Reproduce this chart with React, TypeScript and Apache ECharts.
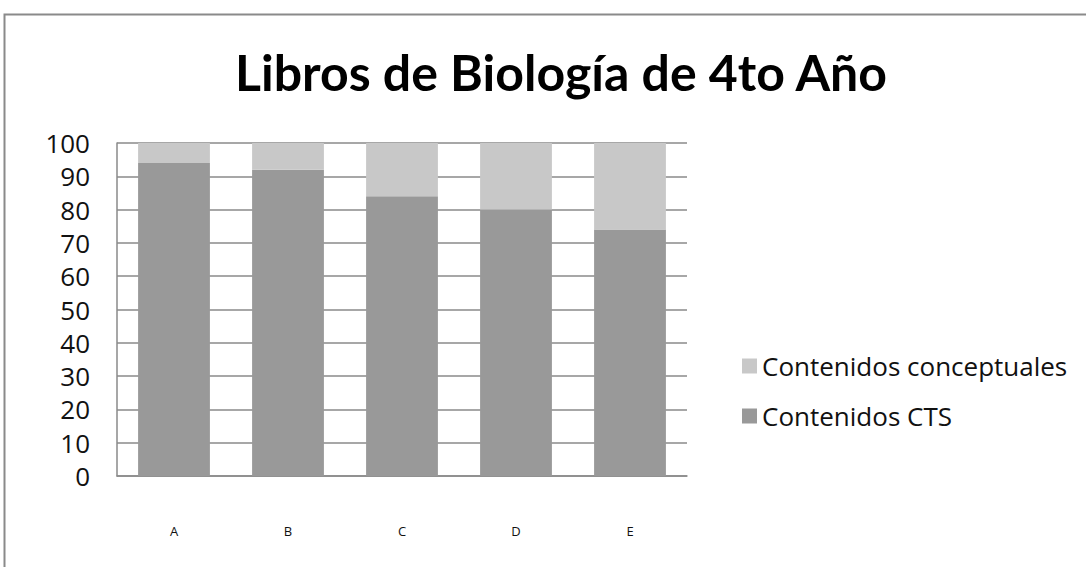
import React, { useEffect, useRef } from "react";
import * as echarts from "echarts";

const categories = ["A", "B", "C", "D", "E"];
const ctsValues = [94, 92, 84, 80, 74];
const conceptualValues = [6, 8, 16, 20, 26];
const seriesNames = ["Contenidos CTS", "Contenidos conceptuales"];
const titleText = "Libros de Biología de 4to Año";

export default function App() {
  const ref = useRef<HTMLDivElement>(null);
  useEffect(() => {
    if (!ref.current) return;
    const chart = echarts.init(ref.current, null, { renderer: "svg" });
    const font = "'Open Sans', Lato, sans-serif";
    chart.setOption({
      animation: false,
      backgroundColor: "#ffffff",
      textStyle: { fontFamily: font },
      title: {
        text: titleText,
        left: 556,
        textAlign: "center",
        top: 42,
        textStyle: { fontFamily: "Lato, sans-serif", fontSize: 50, fontWeight: "bold", color: "#000" },
      },
      graphic: [
        {
          type: "rect",
          shape: { x: 4.5, y: 14.5, width: 1200, height: 700 },
          style: { fill: "none", stroke: "#8a8a8a", lineWidth: 2 },
          silent: true,
        },
      ],
      legend: {
        orient: "vertical",
        left: 737,
        top: 348,
        itemWidth: 15,
        itemHeight: 15,
        itemGap: 24,
        icon: "rect",
        data: [seriesNames[1], seriesNames[0]],
        textStyle: { fontFamily: font, fontSize: 26, color: "#111" },
      },
      grid: { left: 117, top: 143, width: 570, height: 333, containLabel: false },
      xAxis: {
        type: "category",
        data: categories,
        axisLine: { show: true, lineStyle: { color: "#8a8a8a", width: 1.5 } },
        axisTick: { show: false },
        axisLabel: { fontFamily: font, fontSize: 13, color: "#111", margin: 48 },
      },
      yAxis: {
        type: "value",
        min: 0,
        max: 100,
        interval: 10,
        axisLine: { show: true, lineStyle: { color: "#8a8a8a", width: 1.5 } },
        axisTick: { show: false },
        splitLine: { show: true, lineStyle: { color: "#8a8a8a", width: 1.5 } },
        axisLabel: { fontFamily: font, fontSize: 26, color: "#111", margin: 27 },
      },
      series: [
        {
          name: seriesNames[0],
          type: "bar",
          stack: "total",
          data: ctsValues,
          barCategoryGap: "37%",
          itemStyle: { color: "#999999" },
        },
        {
          name: seriesNames[1],
          type: "bar",
          stack: "total",
          data: conceptualValues,
          barCategoryGap: "37%",
          itemStyle: { color: "#c8c8c8" },
        },
      ],
    });
    return () => chart.dispose();
  }, []);
  return (
    <div
      ref={ref}
      style={{ position: "absolute", left: 0, top: 0, width: 1086, height: 567 }}
    />
  );
}
